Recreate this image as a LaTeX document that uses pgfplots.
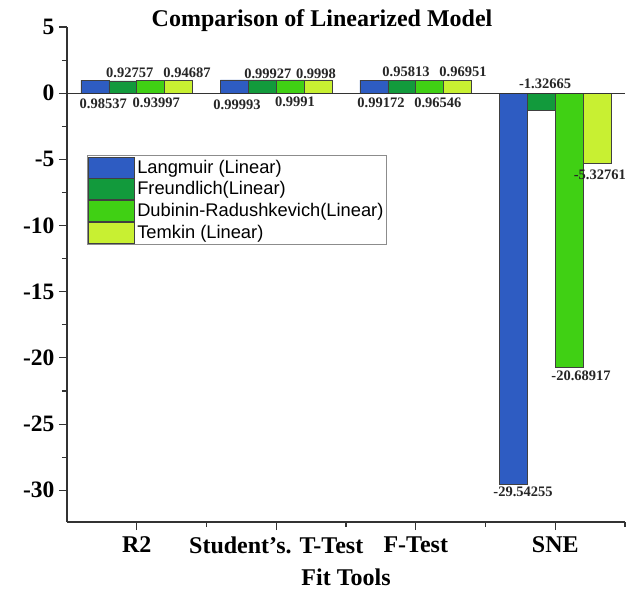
\documentclass[border=0pt]{standalone}
\usepackage{fontspec}
\setmainfont{Liberation Serif}
\newfontfamily\legfont{Liberation Sans}
\usepackage{pgfplots}
\pgfplotsset{compat=1.18}
\definecolor{cLang}{RGB}{46,92,194}
\definecolor{cFreu}{RGB}{18,154,60}
\definecolor{cDub}{RGB}{64,208,20}
\definecolor{cTem}{RGB}{200,240,50}
\begin{document}
\begin{tikzpicture}[lab/.style={font=\fontsize{14.5}{14.5}\selectfont\bfseries, inner sep=0pt, anchor=center, text=black!85}]
\begin{axis}[
  scale only axis,
  width=558pt, height=495pt,
  xmin=-0.5, xmax=3.5,
  ymin=-32.4, ymax=5,
  axis lines=left,
  axis line style={-, line width=1.3pt, black!80},
  ybar=0pt,
  bar width=27.9pt,
  xtick={0,1,2,3},
  xticklabels={R2,{Student’s. T-Test},F-Test,SNE},
  minor xtick={0.5,1.5,2.5,3.5},
  ytick={-30,-25,-20,-15,-10,-5,0,5},
  yticklabels={-30,-25,-20,-15,-10,-5,0,5},
  minor ytick={-32.5,-27.5,-22.5,-17.5,-12.5,-7.5,-2.5,2.5},
  tick align=outside,
  major tick length=8pt,
  minor tick length=5pt,
  tick style={line width=1.1pt, black!80},
  xticklabel style={font=\fontsize{24}{24}\selectfont\bfseries, yshift=-3pt},
  yticklabel style={font=\fontsize{23.5}{23.5}\selectfont\bfseries, xshift=-1pt},
  title={Comparison of Linearized Model},
  title style={font=\fontsize{24}{24}\selectfont\bfseries, at={(0.457,1)}, anchor=center},
  xlabel={Fit Tools},
  xlabel style={font=\fontsize{24}{24}\selectfont\bfseries, at={(axis description cs:0.5,0)}, anchor=north, yshift=-43pt},
  legend style={at={(0.036,0.741)}, anchor=north west, draw=black!45, line width=0.6pt,
    font=\legfont\fontsize{18.3}{18.3}\selectfont, inner sep=1pt,
    nodes={inner sep=2.2pt}, cells={anchor=west}},
  legend cell align=left,
  legend image code/.code={\draw[#1] (0pt,-10.5pt) rectangle (46pt,10.5pt);},
  clip=false,
]
\addplot[fill=cLang, draw=black!75, line width=0.7pt] coordinates {(0,0.98537) (1,0.99993) (2,0.99172) (3,-29.54255)};
\addplot[fill=cFreu, draw=black!75, line width=0.7pt] coordinates {(0,0.92757) (1,0.99927) (2,0.95813) (3,-1.32665)};
\addplot[fill=cDub, draw=black!75, line width=0.7pt] coordinates {(0,0.93997) (1,0.9991) (2,0.96546) (3,-20.68917)};
\addplot[fill=cTem, draw=black!75, line width=0.7pt] coordinates {(0,0.94687) (1,0.9998) (2,0.96951) (3,-5.32761)};
\legend{Langmuir (Linear),Freundlich(Linear),Dubinin-Radushkevich(Linear),Temkin (Linear)}
\draw[black!80, line width=1.1pt] (axis cs:-0.5,0) -- (axis cs:3.5,0);
\node[lab] at (axis cs:-0.24,-0.78) {0.98537};
\node[lab] at (axis cs:-0.05,1.52) {0.92757};
\node[lab] at (axis cs:0.14,-0.76) {0.93997};
\node[lab] at (axis cs:0.36,1.52) {0.94687};
\node[lab] at (axis cs:0.719,-0.86) {0.99993};
\node[lab] at (axis cs:0.94,1.43) {0.99927};
\node[lab] at (axis cs:1.134,-0.63) {0.9991};
\node[lab] at (axis cs:1.285,1.43) {0.9998};
\node[lab] at (axis cs:1.751,-0.76) {0.99172};
\node[lab] at (axis cs:1.930,1.58) {0.95813};
\node[lab] at (axis cs:2.159,-0.76) {0.96546};
\node[lab] at (axis cs:2.339,1.58) {0.96951};
\node[lab] at (axis cs:2.769,-30.15) {-29.54255};
\node[lab] at (axis cs:2.927,0.70) {-1.32665};
\node[lab] at (axis cs:3.185,-21.36) {-20.68917};
\node[lab] at (axis cs:3.32,-6.14) {-5.32761};
\end{axis}
\pgfresetboundingbox
\path[use as bounding box] ([xshift=-67pt,yshift=-67pt]current axis.south west) rectangle ([xshift=5pt,yshift=27pt]current axis.north east);
\end{tikzpicture}
\end{document}
